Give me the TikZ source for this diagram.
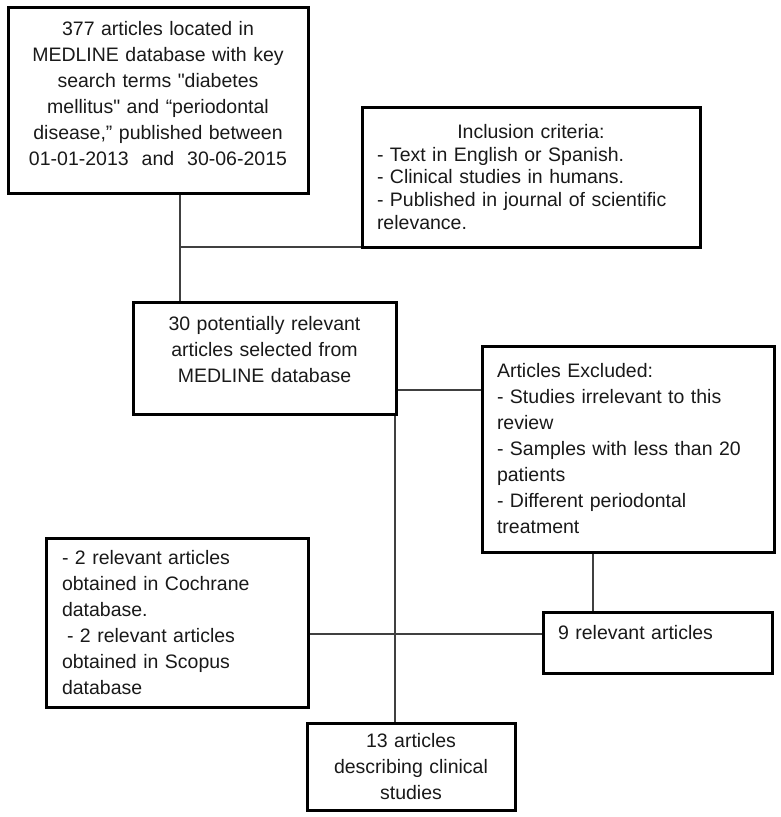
\documentclass[tikz,border=0pt]{standalone}
\usepackage{fontspec}
\setmainfont{Liberation Sans}[Ligatures=TeXOff]
\newcommand{\padlast}[1]{\rule[-#1]{0pt}{#1}}

\begin{document}
\begin{tikzpicture}[x=1pt,y=-1pt,
    box/.style={draw, line width=3pt, inner sep=0pt, text=black!90,
        font=\fontsize{19.5pt}{26pt}\selectfont},
    link/.style={line width=1.3pt, draw=black!75}]
    \useasboundingbox (0,0) rectangle (781,817);
    % boxes
    \node[box, minimum width=300pt, minimum height=186pt, text width=280pt, align=center] (search) at (158,100)
        {377 articles located in\\ MEDLINE database with key\\ search terms "diabetes\\ mellitus" and “periodontal\\ disease,” published between\\ 01-01-2013\ \ and\ \ 30-06-2015\padlast{14pt}};
    \node[box, minimum width=338pt, minimum height=140pt, text width=308pt, align=left,
        font=\fontsize{19.5pt}{22.7pt}\selectfont] (incl) at (531,177)
        {\makebox[\linewidth][c]{Inclusion criteria:}\\ - Text in English or Spanish.\\ - Clinical studies in humans.\\ - Published in journal of scientific\\ relevance.};
    \node[box, minimum width=263pt, minimum height=112pt, text width=243pt, align=center] (sel) at (264.5,358)
        {30 potentially relevant\\ articles selected from\\ MEDLINE database\padlast{18pt}};
    \node[box, minimum width=292pt, minimum height=206pt, text width=262pt, align=left] (excl) at (628,449)
        {Articles Excluded:\\ - Studies irrelevant to this\\ review\\ - Samples with less than 20\\ patients\\ - Different periodontal\\ treatment};
    \node[box, minimum width=262pt, minimum height=169pt, text width=230pt, align=left] (other) at (177,622.5)
        {- 2 relevant articles\\ obtained in Cochrane\\ database.\\ \hspace*{5pt}- 2 relevant articles\\ obtained in Scopus\\ database};
    \node[box, minimum width=229pt, minimum height=61pt, text width=199pt, align=left] (nine) at (657.5,642.5)
        {9 relevant articles\padlast{21pt}};
    \node[box, minimum width=208pt, minimum height=87pt, text width=190pt, align=center] (final) at (411,766.5)
        {13 articles\\ describing clinical\\ studies};
    % junctions
    \coordinate (j1) at (180,247);
    \coordinate (j2) at (396,390);
    \coordinate (j3) at (593,600);
    \coordinate (j4) at (395,634);
    % connectors
    \draw[link] (search.south -| j1) -- (sel.north -| j1);
    \draw[link] (j1) -- (incl.west |- j1);
    \draw[link] (sel.east |- j2) -- (excl.west |- j2);
    \draw[link] (sel.south -| j4) -- (final.north -| j4);
    \draw[link] (excl.south -| j3) -- (nine.north -| j3);
    \draw[link] (other.east |- j4) -- (nine.west |- j4);
\end{tikzpicture}
\end{document}
